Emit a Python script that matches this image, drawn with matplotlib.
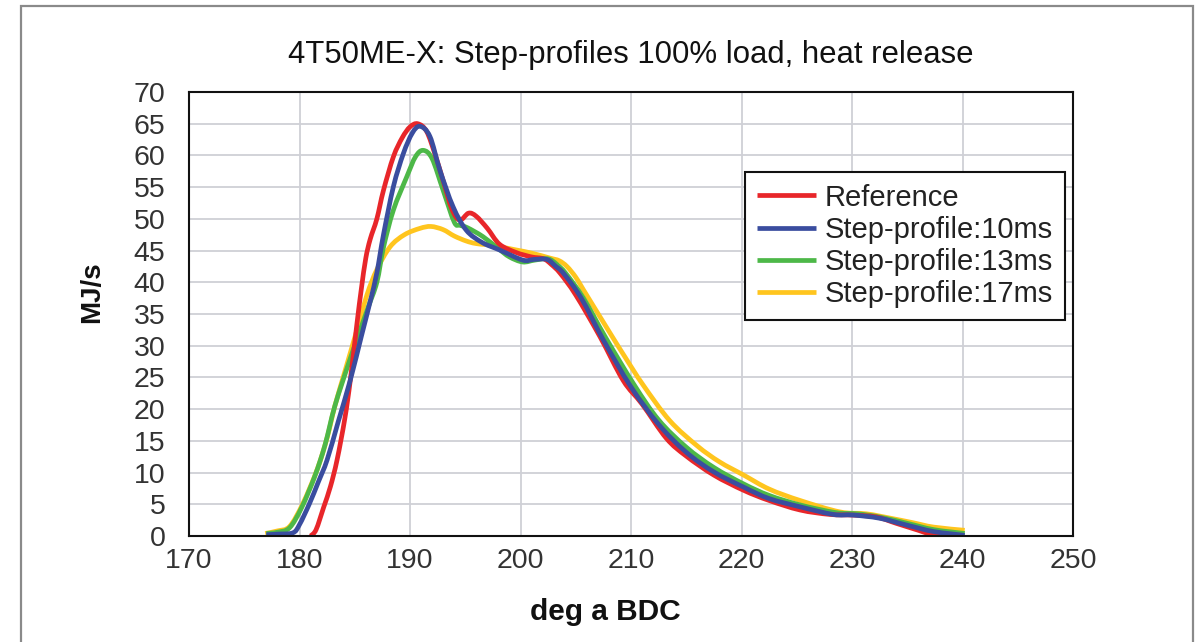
import matplotlib
matplotlib.use("Agg")
import matplotlib.pyplot as plt
import numpy as np
from matplotlib.patches import Rectangle, PathPatch
from matplotlib.path import Path
from matplotlib.lines import Line2D

plt.rcParams['font.family'] = ['Liberation Sans', 'DejaVu Sans']

title = "4T50ME-X: Step-profiles 100% load, heat release"
xlabel = "deg a BDC"
ylabel = "MJ/s"
labels = ["Reference", "Step-profile:10ms", "Step-profile:13ms", "Step-profile:17ms"]
colors = ["#e8262a", "#3a4d9f", "#4db848", "#ffc51e"]

ref_x = [181.0, 181.5, 182.2, 182.8, 183.4, 184.1, 184.6, 185.2, 185.6, 186.0, 186.4, 187.0,
         187.6, 188.5, 189.3, 190.0, 190.7, 191.5, 192.3, 193.0, 193.8, 194.5, 195.3, 196.0,
         197.0, 198.1, 199.6, 201.0, 202.1, 202.8, 203.6, 205.0, 207.2, 209.3, 211.0, 213.2,
         215.0, 217.5, 220.2, 222.5, 225.3, 228.0, 230.1, 232.2, 234.0, 236.0, 237.4, 238.0]
ref_y = [0.0, 1.0, 4.6, 7.8, 12.0, 18.5, 24.6, 33.5, 39.0, 43.8, 46.8, 50.0,
         54.5, 59.8, 62.8, 64.5, 65.0, 63.8, 60.0, 56.0, 51.5, 49.8, 50.9, 50.4,
         48.5, 46.0, 44.7, 44.0, 43.7, 42.8, 41.4, 38.0, 31.4, 24.5, 20.8, 15.4,
         12.6, 9.6, 7.2, 5.6, 4.1, 3.4, 3.3, 3.0, 2.0, 0.9, 0.1, 0.0]

s10_x = [177.0, 178.0, 179.4, 180.0, 180.9, 181.7, 182.5, 183.5, 184.6, 185.6, 186.4, 187.0,
         187.6, 188.5, 189.4, 190.2, 190.9, 191.8, 192.7, 193.9, 195.1, 196.5, 198.1, 200.2,
         201.2, 202.4, 203.2, 203.9, 205.5, 207.5, 210.0, 212.5, 215.0, 217.5, 220.2, 222.5,
         225.3, 228.3, 230.1, 232.5, 235.0, 237.4, 240.2]
s10_y = [0.2, 0.3, 0.5, 1.8, 5.1, 8.5, 12.0, 18.0, 24.6, 31.5, 37.0, 41.5,
         47.5, 55.1, 60.3, 63.5, 64.6, 63.0, 57.7, 51.9, 48.2, 46.3, 45.1, 43.5,
         43.6, 43.6, 42.5, 41.4, 37.5, 30.9, 23.5, 17.6, 13.2, 10.1, 7.7, 5.9,
         4.6, 3.4, 3.3, 2.8, 1.7, 0.7, 0.1]

s13_x = [177.0, 178.0, 179.1, 180.2, 181.4, 182.3, 183.2, 184.5, 185.2, 186.2, 187.0, 187.6,
         188.5, 189.7, 190.5, 191.2, 192.0, 193.0, 194.0, 194.5, 195.2, 196.6, 198.0, 199.0,
         200.2, 201.3, 202.5, 203.3, 204.1, 205.7, 207.7, 210.3, 212.5, 215.0, 217.5, 220.2,
         222.5, 225.3, 228.5, 230.5, 232.5, 235.0, 237.4, 240.2]
s13_y = [0.4, 0.6, 1.3, 4.5, 9.5, 14.3, 20.5, 27.5, 31.0, 36.0, 40.0, 45.5,
         51.4, 56.6, 59.8, 60.8, 59.5, 54.5, 49.5, 49.0, 48.6, 47.2, 45.3, 44.0,
         43.2, 43.5, 43.7, 42.8, 41.4, 37.5, 31.3, 23.8, 18.3, 14.0, 10.8, 8.2,
         6.4, 4.9, 3.7, 3.5, 3.0, 2.0, 1.0, 0.4]

s17_x = [176.9, 178.0, 179.1, 180.3, 181.6, 182.5, 183.2, 184.2, 185.2, 186.1, 187.0, 188.2,
         189.5, 190.9, 191.9, 193.0, 194.0, 195.1, 196.0, 197.5, 199.6, 201.0, 202.7, 203.5,
         204.2, 205.0, 205.7, 208.1, 209.5, 211.1, 213.5, 216.0, 218.0, 220.2, 222.5, 225.3,
         228.9, 231.3, 233.5, 235.5, 237.4, 240.2]
s17_y = [0.4, 0.8, 1.5, 5.1, 10.5, 15.5, 20.5, 26.5, 32.5, 38.0, 42.0, 45.6,
         47.5, 48.5, 48.8, 48.3, 47.3, 46.5, 46.1, 45.8, 45.1, 44.6, 43.8, 43.4,
         42.5, 40.8, 38.8, 32.0, 28.1, 23.8, 18.2, 14.2, 11.7, 9.6, 7.4, 5.6,
         3.8, 3.5, 2.8, 2.1, 1.4, 0.9]

xticks = [170, 180, 190, 200, 210, 220, 230, 240, 250]
yticks = list(range(0, 71, 5))


def smooth_path(xs, ys):
    """Smoothed line through the data points (cubic Bezier segments, like a
    spreadsheet 'smoothed line')."""
    p = np.column_stack([xs, ys]).astype(float)
    n = len(p)
    verts = [p[0]]
    codes = [Path.MOVETO]
    for i in range(n - 1):
        p0 = p[i - 1] if i > 0 else p[i]
        p1 = p[i]
        p2 = p[i + 1]
        p3 = p[i + 2] if i + 2 < n else p[i + 1]
        c1 = p1 + (p2 - p0) / 6.0
        c2 = p2 - (p3 - p1) / 6.0
        verts += [c1, c2, p2]
        codes += [Path.CURVE4, Path.CURVE4, Path.CURVE4]
    return Path(verts, codes)


fig = plt.figure(figsize=(11.98, 6.42), dpi=100)
ax = fig.add_axes([189/1198, 1-536/642, (1073-189)/1198, (536-92)/642])

series = [(ref_x, ref_y), (s10_x, s10_y), (s13_x, s13_y), (s17_x, s17_y)]
zorders = [4, 5, 3, 2]
LW = 3.4
handles = []
for (xs, ys), c, lab, z in zip(series, colors, labels, zorders):
    patch = PathPatch(smooth_path(xs, ys), fill=False, edgecolor=c, lw=LW,
                      capstyle='butt', joinstyle='round', zorder=z,
                      transform=ax.transData)
    ax.add_patch(patch)
    handles.append(Line2D([], [], color=c, lw=LW, label=lab, solid_capstyle='butt'))

ax.set_xlim(170, 250)
ax.set_ylim(0, 70)
ax.set_xticks(xticks)
ax.set_yticks(yticks)
ax.grid(True, color='#cfd0d6', lw=1.3, zorder=0)
ax.set_axisbelow(True)
ax.tick_params(length=0, labelsize=20.5, labelcolor='#333333')
ax.tick_params(axis='y', pad=17)
ax.tick_params(axis='x', pad=9)
for sp in ax.spines.values():
    sp.set_linewidth(1.5)
    sp.set_color('#111111')
    sp.set_zorder(6)

ax.set_title(title, fontsize=22.4, color='#111111', pad=21)
ax.set_xlabel(xlabel, fontsize=21.5, fontweight='bold', color='#111111')
ax.set_ylabel(ylabel, fontsize=20, fontweight='bold', color='#111111')
ax.xaxis.set_label_coords((605-189)/(1073-189), -(598-536)/(536-92))
ax.yaxis.set_label_coords((105-189)/(1073-189), (536-292)/(536-92))

leg = ax.legend(handles=handles, loc='upper left',
                bbox_to_anchor=(745/1198, 1-172/642), bbox_transform=fig.transFigure,
                borderaxespad=0, fontsize=21, frameon=True, fancybox=False,
                edgecolor='#111111', framealpha=1, labelspacing=0.14,
                handlelength=2.05, handletextpad=0.28, borderpad=0.4)
leg.get_frame().set_linewidth(1.5)
leg.set_zorder(10)
for t in leg.get_texts():
    t.set_color('#222222')

border = Rectangle((21/1198, -0.05), (1193-21)/1198, 1.05-6/642,
                   transform=fig.transFigure, fill=False, edgecolor='#8a8a8a', lw=1.6)
fig.patches.append(border)

fig.savefig("out.png", dpi=100)
